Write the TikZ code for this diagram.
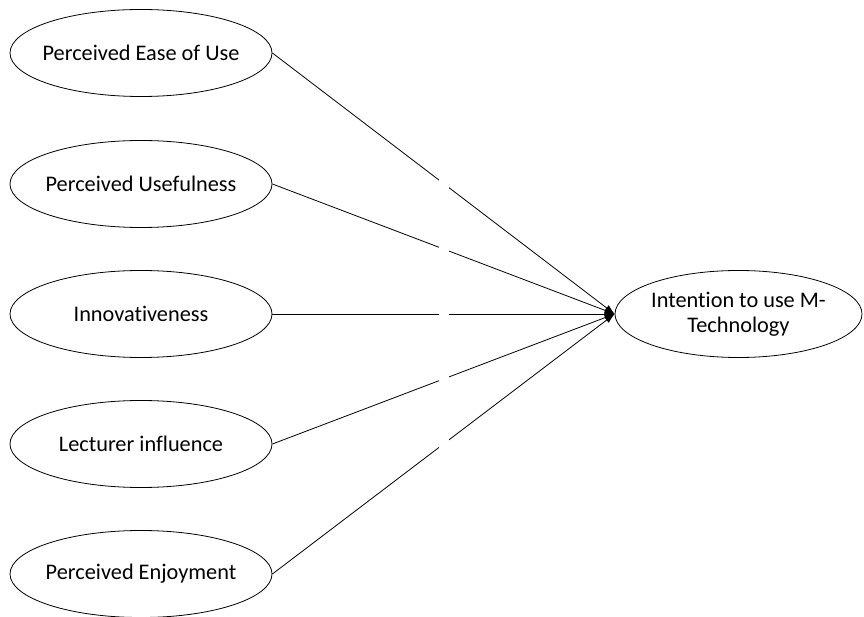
\documentclass[tikz,border=0pt]{standalone}
\usepackage{fontspec}
\setmainfont[Ligatures=NoCommon]{Carlito}
\usepackage{tikz}
\usetikzlibrary{shapes.geometric,arrows.meta,positioning}
\tikzstyle{factor} = [
    ellipse,
    draw=black,
    line width=0.8pt,
    minimum width=262pt,
    minimum height=87pt,
    inner xsep=-25pt,
    inner ysep=0pt,
    align=center,
    font=\fontsize{22.3}{25}\selectfont
]
\tikzstyle{arrow} = [
    line width=0.8pt,
    -{Latex[length=10pt,width=7pt]},
    draw=black
]
\tikzstyle{gap} = [
    fill=white,
    inner sep=0pt,
    minimum width=10pt,
    minimum height=10pt
]
\begin{document}
\begin{tikzpicture}[x=1pt,y=-1pt]
    \useasboundingbox (0,0) rectangle (864,617);
    \node[factor] (ease) at (141,53) {Perceived Ease of Use};
    \node[factor] (useful) at (141,184) {Perceived Usefulness};
    \node[factor] (innov) at (141,314) {Innovativeness};
    \node[factor] (lecturer) at (141,444) {Lecturer influence};
    \node[factor] (enjoy) at (141,574) {Perceived Enjoyment};
    \node[factor, minimum width=247pt] (intention) at (738.5,314) {Intention to use M-\\Technology};

    \foreach \src in {ease,useful,innov,lecturer,enjoy}
        \draw[arrow] (\src.east) -- node[gap] {} (intention.west);
\end{tikzpicture}
\end{document}
